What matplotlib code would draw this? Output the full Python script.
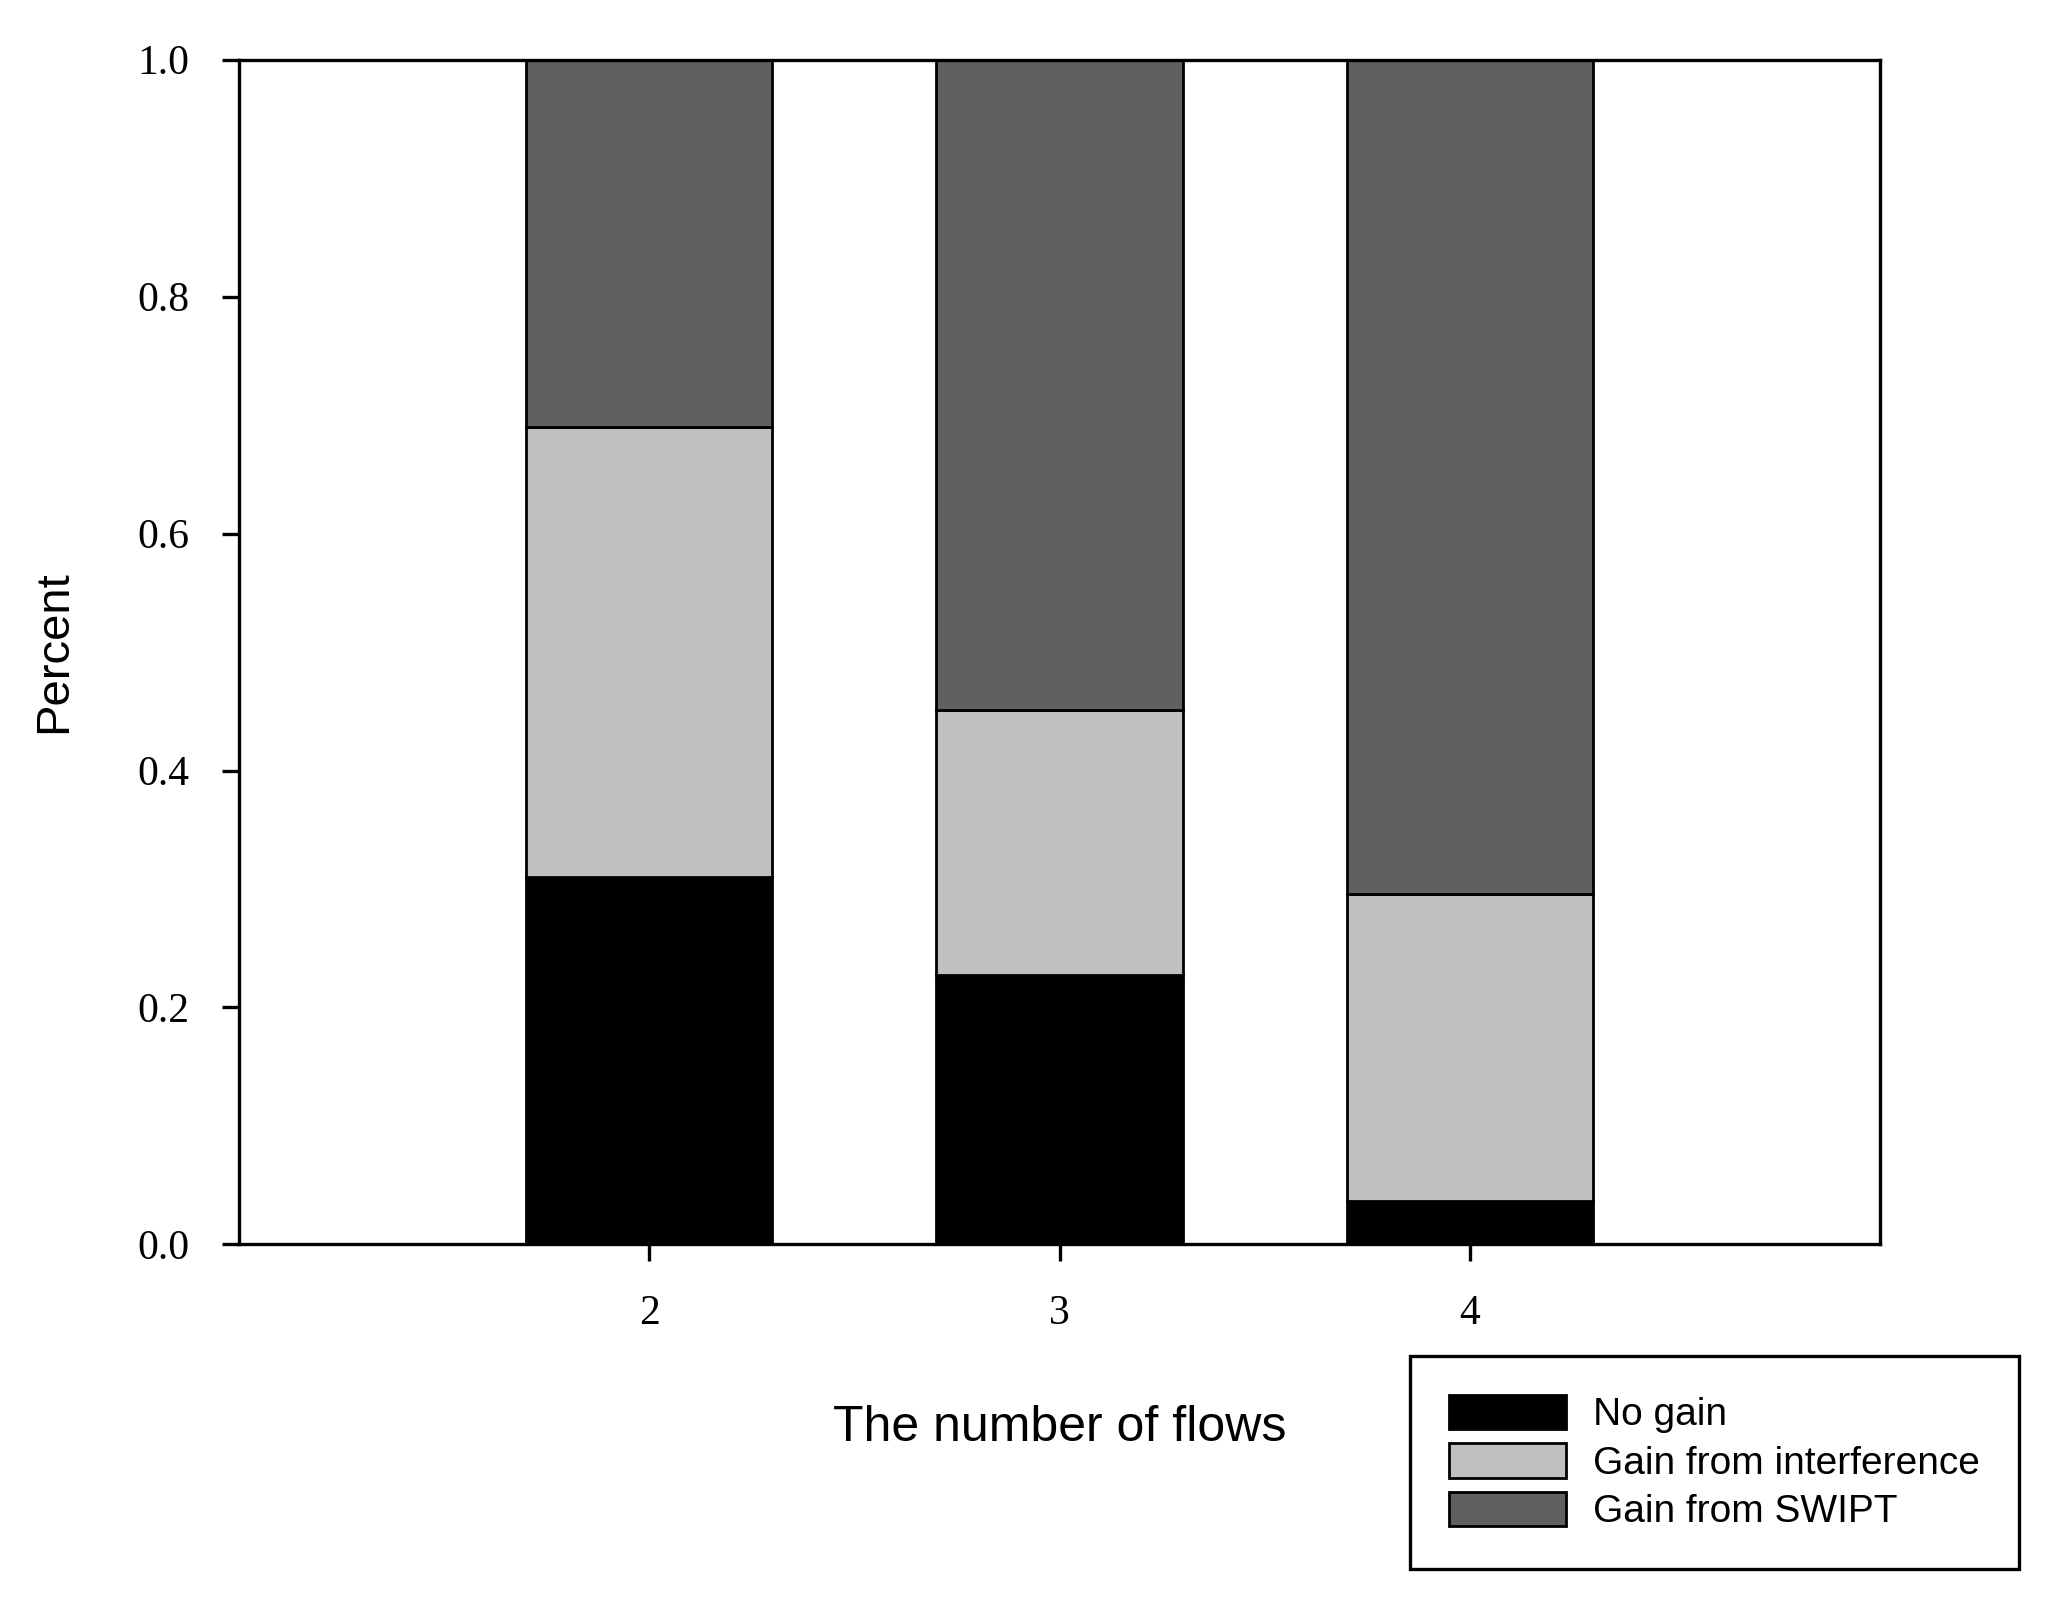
import matplotlib
matplotlib.use("Agg")
import matplotlib.pyplot as plt
from matplotlib.patches import Patch

flows = [2, 3, 4]
no_gain = [0.31, 0.227, 0.037]
gain_interf = [0.38, 0.224, 0.259]
gain_swipt = [0.31, 0.549, 0.704]

fig = plt.figure(figsize=(10.25, 8.07), dpi=200)
ax = fig.add_axes([0.1167, 0.229, 0.8003, 0.734])

kw = dict(width=0.6, edgecolor="black", linewidth=1.0)
ax.bar(flows, no_gain, color="black", **kw)
ax.bar(flows, gain_interf, bottom=no_gain, color="#c0c0c0", **kw)
bot2 = [a + b for a, b in zip(no_gain, gain_interf)]
ax.bar(flows, gain_swipt, bottom=bot2, color="#606060", **kw)

ax.set_xlim(1, 5)
ax.set_ylim(0, 1)
ax.set_xticks(flows)
ax.set_yticks([0, 0.2, 0.4, 0.6, 0.8, 1.0])
ax.set_yticklabels(["0.0", "0.2", "0.4", "0.6", "0.8", "1.0"])
for lab in ax.get_xticklabels() + ax.get_yticklabels():
    lab.set_family("Liberation Serif")
    lab.set_fontsize(15)
ax.tick_params(direction="out", length=6, width=1.2, pad=12)
for s in ax.spines.values():
    s.set_linewidth(1.2)

ax.set_xlabel("The number of flows", family="Liberation Sans", fontsize=18, labelpad=26)
ax.set_ylabel("Percent", family="Liberation Sans", fontsize=17, labelpad=22)

handles = [Patch(facecolor="black", edgecolor="black"),
           Patch(facecolor="#c0c0c0", edgecolor="black"),
           Patch(facecolor="#606060", edgecolor="black")]
leg = fig.legend(handles, ["No gain", "Gain from interference", "Gain from SWIPT"],
                 loc="upper left", bbox_to_anchor=(0.688, 0.16),
                 fancybox=False, edgecolor="black", framealpha=1,
                 prop={"family": "Liberation Sans", "size": 14},
                 handlelength=3.0, handleheight=1.0, labelspacing=0.25,
                 borderpad=1.0, handletextpad=0.7, borderaxespad=0)
leg.get_frame().set_linewidth(1.2)

fig.savefig("out.png")
